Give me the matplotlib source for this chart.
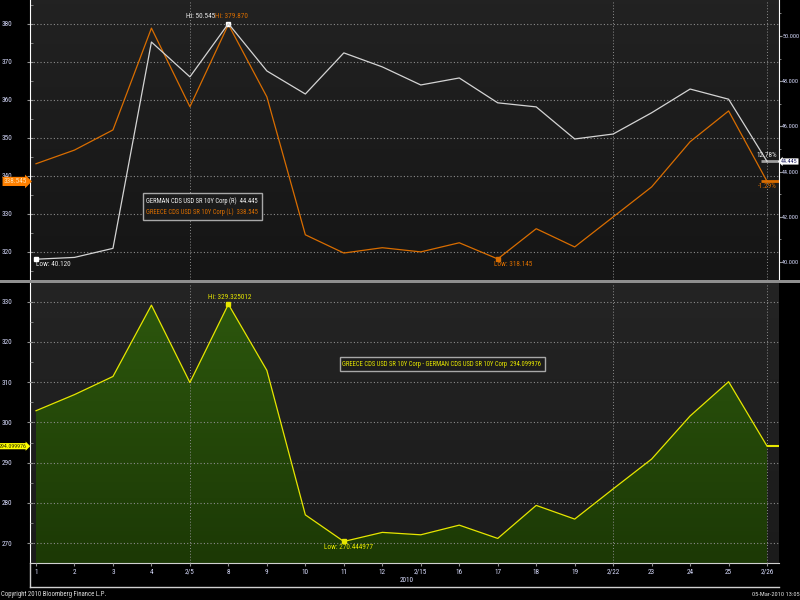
import numpy as np
import matplotlib
matplotlib.use("Agg")
import matplotlib.pyplot as plt
from matplotlib.transforms import blended_transform_factory
from matplotlib.lines import Line2D
from matplotlib.patches import Rectangle
from matplotlib.ticker import MultipleLocator, FormatStrFormatter

plt.rcParams["font.family"] = ["Roboto Condensed", "DejaVu Sans"]

# ---- data ----
dates = ["1", "2", "3", "4", "2/5", "8", "9", "10", "11", "12", "2/15",
         "16", "17", "18", "19", "2/22", "23", "24", "25", "2/26"]
greece = [343.2, 346.8, 352.1, 378.9, 358.2, 379.87, 360.8, 324.5, 319.7, 321.1,
          320.0, 322.4, 318.145, 326.1, 321.3, 329.2, 337.1, 349.0, 357.1, 338.545]
german = [40.12, 40.2, 40.6, 49.73, 48.19, 50.545, 48.45, 47.43, 49.25, 48.63,
          47.83, 48.14, 47.04, 46.86, 45.44, 45.66, 46.6, 47.65, 47.2, 44.445]
spread = [302.9, 306.9, 311.4, 329.1, 309.9, 329.325, 312.9, 277.05, 270.445, 272.7,
          272.1, 274.5, 271.2, 279.4, 276.0, 283.5, 290.9, 301.6, 310.1, 294.1]
week_lines = [4, 15, 19]

ORANGE = "#d96d00"
WHITE_LN = "#d4d4d4"
YELLOW = "#e6e600"
TICK_TXT = "#d8dcff"
GRID = "#8c8c8c"
FS = 5.2
FS_R = 4.4
FS_BOX = 4.8

W, H = 800, 600
fig = plt.figure(figsize=(8, 6), dpi=100, facecolor="black")


def rect(x0, y0, x1, y1):
    return [x0 / W, 1 - y1 / H, (x1 - x0) / W, (y1 - y0) / H]


def px(x, y):
    return x / W, 1 - y / H


x = np.arange(len(dates))
xlim = (-0.156, 19.31)


def gradient_bg(r, top, bottom):
    bg = fig.add_axes(r, zorder=-5)
    bg.axis("off")
    c0 = np.array(matplotlib.colors.to_rgb(top))
    c1 = np.array(matplotlib.colors.to_rgb(bottom))
    t = np.linspace(0, 1, 64)[:, None, None]
    bg.imshow(c0 * (1 - t) + c1 * t, aspect="auto", extent=(0, 1, 0, 1))


# ---------------- top panel ----------------
top_rect = rect(30, 0, 779, 280)
gradient_bg(top_rect, "#222222", "#151515")
ax = fig.add_axes(top_rect)
ax.set_facecolor("none")
axr = ax.twinx()
axr.set_facecolor("none")

ax.plot(x, greece, color=ORANGE, lw=0.9, zorder=3)
axr.plot(x, german, color=WHITE_LN, lw=0.9, zorder=3)

ax.set_xlim(*xlim)
ax.set_ylim(312.6, 386.3)
axr.set_ylim(39.2, 51.59)
ax.yaxis.set_major_locator(MultipleLocator(10))
ax.yaxis.set_minor_locator(MultipleLocator(5))
axr.yaxis.set_major_locator(MultipleLocator(2))
axr.yaxis.set_minor_locator(MultipleLocator(1))
axr.yaxis.set_major_formatter(FormatStrFormatter("%.3f"))
ax.set_xticks([])

ax.grid(True, axis="y", color=GRID, lw=0.8, ls=(0, (1, 2)))
for wl in week_lines:
    ax.axvline(wl, color=GRID, lw=0.7, ls=(0, (1, 2)))

for a in (ax, axr):
    for s in a.spines.values():
        s.set_visible(False)
ax.spines["left"].set_visible(True)
ax.spines["left"].set_color("white")
axr.spines["right"].set_visible(True)
axr.spines["right"].set_color("white")

ax.tick_params(axis="y", which="major", direction="inout", length=5, color="#909090",
               labelcolor=TICK_TXT, labelsize=FS, pad=10)
ax.tick_params(axis="y", which="minor", direction="in", length=2, color="#909090")
axr.tick_params(axis="y", which="major", direction="out", length=2.2, color="#909090",
                labelcolor=TICK_TXT, labelsize=FS_R, pad=0.2)
axr.tick_params(axis="y", which="minor", direction="out", length=1.5, color="#909090")

# hi / low markers
ax.plot([5], [greece[5]], "s", color="white", ms=2.5, zorder=5)
axr.plot([0], [german[0]], "s", color="white", ms=2.5, zorder=5)
ax.plot([12], [greece[12]], "s", color=ORANGE, ms=2.5, zorder=5)
axr.annotate("Hi: 50.545", (5, german[5]), xytext=(-13, 4), textcoords="offset pixels",
             ha="right", va="bottom", color="#e8e8e8", fontsize=FS)
ax.annotate("Hi: 379.870", (5, greece[5]), xytext=(-13, 4), textcoords="offset pixels",
            ha="left", va="bottom", color=ORANGE, fontsize=FS)
axr.annotate("Low: 40.120", (0, german[0]), xytext=(0, -2), textcoords="offset pixels",
             ha="left", va="top", color="#e8e8e8", fontsize=FS)
ax.annotate("Low: 318.145", (12, greece[12]), xytext=(-4, -2), textcoords="offset pixels",
            ha="left", va="top", color=ORANGE, fontsize=FS)

# legend box
fig.patches.append(Rectangle(px(143, 220), 119 / W, 27 / H, transform=fig.transFigure,
                             facecolor="#1b1b1b", edgecolor="#a8a8a8", lw=1.0, zorder=6))
fig.text(*px(146, 201), "GERMAN CDS USD SR 10Y Corp (R)  44.445", color="#f0f0f0",
         fontsize=FS_BOX, va="center", ha="left", zorder=7)
fig.text(*px(146, 212), "GREECE CDS USD SR 10Y Corp (L)  338.545", color=ORANGE,
         fontsize=FS_BOX, va="center", ha="left", zorder=7)

# last value lines and tags
ax.hlines(greece[-1], 18.85, xlim[1], color=ORANGE, lw=2)
axr.hlines(german[-1], 18.85, xlim[1], color="#a0a0a0", lw=2)
axr.annotate("12.78%", (xlim[1], german[-1]), xytext=(-2, 2), textcoords="offset pixels",
             ha="right", va="bottom", color="#e8e8e8", fontsize=FS)
ax.annotate("-1.29%", (xlim[1], greece[-1]), xytext=(-2, -2), textcoords="offset pixels",
            ha="right", va="top", color=ORANGE, fontsize=FS)
tl = blended_transform_factory(ax.transAxes, ax.transData)
ax.text(-0.004, greece[-1], "338.545", transform=tl, ha="right", va="center",
        fontsize=FS, color="#ffe0b0",
        bbox=dict(boxstyle="rarrow,pad=0.15", fc="#ff8000", ec="none"), clip_on=False,
        zorder=8)
tr = blended_transform_factory(axr.transAxes, axr.transData)
axr.text(1.003, german[-1], "44.445", transform=tr, ha="left", va="center",
         fontsize=FS_R, color="#202060",
         bbox=dict(boxstyle="larrow,pad=0.1", fc="white", ec="none"), clip_on=False,
         zorder=8)

# separator
fig.patches.append(Rectangle(px(0, 283), 1, 3 / H, transform=fig.transFigure,
                             facecolor="#8f8f8f", edgecolor="none"))

# ---------------- bottom panel ----------------
bot_rect = rect(30, 283, 779, 563)
gradient_bg(bot_rect, "#242424", "#1b1b1b")
bx = fig.add_axes(bot_rect)
bx.set_facecolor("none")
ylo, yhi = 265.1, 334.6

poly = bx.fill_between(x, spread, ylo, color="none", lw=0)
c0 = np.array(matplotlib.colors.to_rgb("#2c560d"))
c1 = np.array(matplotlib.colors.to_rgb("#1c3905"))
t = np.linspace(0, 1, 64)[:, None, None]
grad = bx.imshow(c0 * (1 - t) + c1 * t, aspect="auto",
                 extent=(0, len(x) - 1, ylo, max(spread)), zorder=1)
grad.set_clip_path(poly.get_paths()[0], transform=bx.transData)
bx.plot(x, spread, color=YELLOW, lw=0.9, zorder=4)
bx.set_xlim(*xlim)
bx.set_ylim(ylo, yhi)

bx.yaxis.set_major_locator(MultipleLocator(10))
bx.yaxis.set_minor_locator(MultipleLocator(5))
bx.set_xticks(x)
bx.set_xticklabels(dates)
bx.grid(True, axis="y", color=GRID, lw=0.8, ls=(0, (1, 2)), zorder=3)
bx.set_axisbelow(False)
for wl in week_lines:
    bx.axvline(wl, color=GRID, lw=0.7, ls=(0, (1, 2)), zorder=3)
for s in bx.spines.values():
    s.set_visible(False)
bx.spines["left"].set_visible(True)
bx.spines["left"].set_color("white")
bx.spines["bottom"].set_visible(True)
bx.spines["bottom"].set_color("#d0d0d0")
bx.tick_params(axis="y", which="major", direction="inout", length=5, color="#909090",
               labelcolor=TICK_TXT, labelsize=FS, pad=10)
bx.tick_params(axis="y", which="minor", direction="in", length=2, color="#909090")
bx.tick_params(axis="x", direction="out", length=2, color="#909090",
               labelcolor=TICK_TXT, labelsize=FS, pad=2)

bx.plot([5], [spread[5]], "s", color=YELLOW, ms=2.5, zorder=5)
bx.plot([8], [spread[8]], "s", color=YELLOW, ms=2.5, zorder=5)
bx.annotate("Hi: 329.325012", (5, spread[5]), xytext=(1, 3), textcoords="offset pixels",
            ha="center", va="bottom", color=YELLOW, fontsize=FS)
bx.annotate("Low: 270.444977", (8, spread[8]), xytext=(5, -3), textcoords="offset pixels",
            ha="center", va="top", color=YELLOW, fontsize=FS)

fig.patches.append(Rectangle(px(340, 371), 205 / W, 14 / H, transform=fig.transFigure,
                             facecolor="#1c1c1c", edgecolor="#a8a8a8", lw=1.0, zorder=6))
fig.text(*px(342, 364.5), "GREECE CDS USD SR 10Y Corp - GERMAN CDS USD SR 10Y Corp  294.099976",
         color=YELLOW, fontsize=FS_BOX, va="center", ha="left", zorder=7)

bx.hlines(spread[-1], 19, xlim[1], color=YELLOW, lw=1.5, zorder=4)
tb = blended_transform_factory(bx.transAxes, bx.transData)
bx.text(-0.004, spread[-1], "294.099976", transform=tb, ha="right", va="center",
        fontsize=FS - 0.9, color="#303000",
        bbox=dict(boxstyle="rarrow,pad=0.1", fc="#ffff00", ec="none"), clip_on=False,
        zorder=8)

fig.text(*px(407, 580), "2010", color=TICK_TXT, fontsize=FS, ha="center", va="center")

# footer lines and text
fig.add_artist(Line2D([30 / W, 779 / W], [1 - 587 / H] * 2, color="#d0d0d0", lw=1))
fig.add_artist(Line2D([30 / W, 30 / W], [1 - 563 / H, 1 - 587 / H], color="#d0d0d0", lw=1))
fig.text(*px(1, 594), "Copyright 2010 Bloomberg Finance L.P.", color="#e0e0e0",
         fontsize=FS - 0.3, ha="left", va="center")
fig.text(*px(752, 594), "05-Mar-2010 13:05", color="#e0e0e0",
         fontsize=FS - 0.6, ha="left", va="center")

fig.savefig("out.png", dpi=100, facecolor="black")
